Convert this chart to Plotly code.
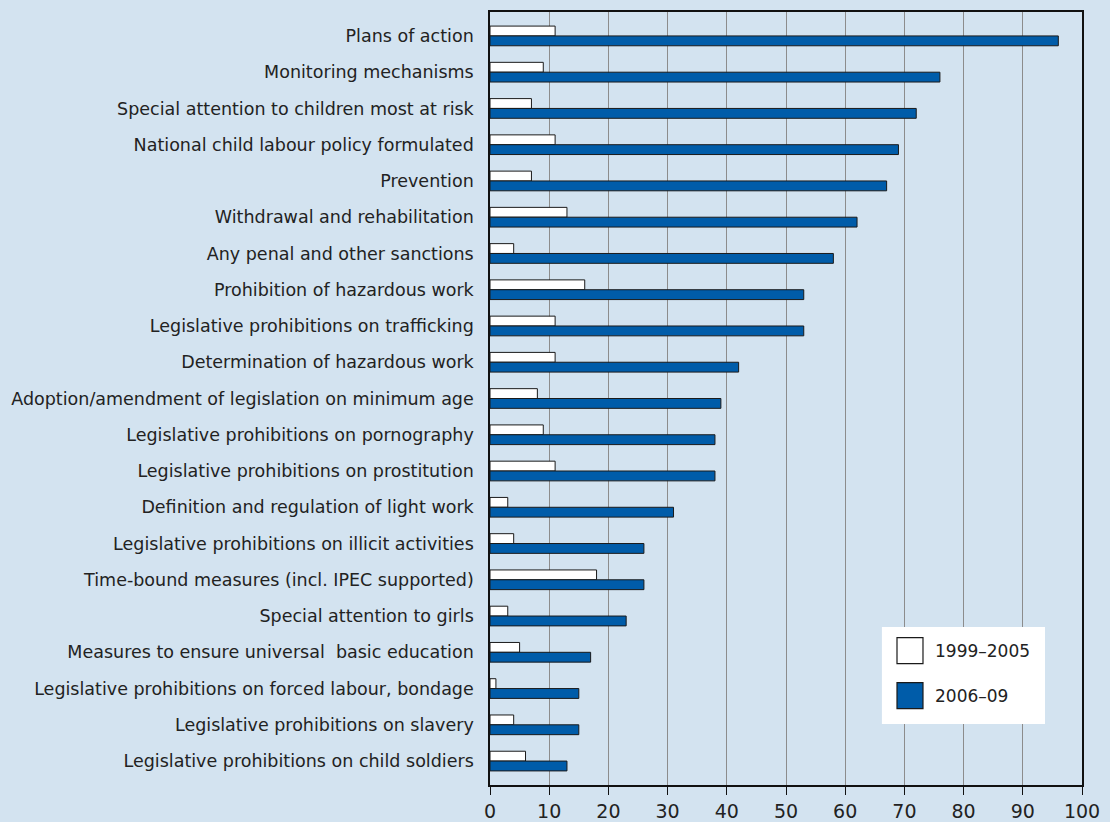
import plotly.graph_objects as go

categories = [
    "Plans of action",
    "Monitoring mechanisms",
    "Special attention to children most at risk",
    "National child labour policy formulated",
    "Prevention",
    "Withdrawal and rehabilitation",
    "Any penal and other sanctions",
    "Prohibition of hazardous work",
    "Legislative prohibitions on trafficking",
    "Determination of hazardous work",
    "Adoption/amendment of legislation on minimum age",
    "Legislative prohibitions on pornography",
    "Legislative prohibitions on prostitution",
    "Definition and regulation of light work",
    "Legislative prohibitions on illicit activities",
    "Time-bound measures (incl. IPEC supported)",
    "Special attention to girls",
    "Measures to ensure universal  basic education",
    "Legislative prohibitions on forced labour, bondage",
    "Legislative prohibitions on slavery",
    "Legislative prohibitions on child soldiers",
]
series_names = ["1999–2005", "2006–09"]
values_1999_2005 = [11, 9, 7, 11, 7, 13, 4, 16, 11, 11, 8, 9, 11, 3, 4, 18, 3, 5, 1, 4, 6]
values_2006_09 = [96, 76, 72, 69, 67, 62, 58, 53, 53, 42, 39, 38, 38, 31, 26, 26, 23, 17, 15, 15, 13]
x_ticks = [0, 10, 20, 30, 40, 50, 60, 70, 80, 90, 100]

BG = "#d3e3f0"
BLUE = "#005ca9"
FONT = "DejaVu Sans"
TEXT = "#222222"

fig = go.Figure()
fig.add_trace(go.Bar(
    y=categories, x=values_1999_2005, orientation="h", name=series_names[0],
    marker=dict(color="white", line=dict(color="#1a1a1a", width=1)),
))
fig.add_trace(go.Bar(
    y=categories, x=values_2006_09, orientation="h", name=series_names[1],
    marker=dict(color=BLUE, line=dict(color="#1a1a1a", width=1)),
))

n = len(categories)
fig.update_layout(
    width=1110, height=822,
    margin=dict(l=490, r=28, t=12, b=37, pad=0, autoexpand=False),
    paper_bgcolor=BG, plot_bgcolor=BG,
    barmode="group", bargap=0.457, bargroupgap=0,
    showlegend=False,
    font=dict(family=FONT, color=TEXT, size=17),
)
fig.update_xaxes(
    range=[0, 100], tickvals=x_ticks, ticktext=[str(t) for t in x_ticks],
    showgrid=True, gridcolor="#8c8c8c", gridwidth=1.2,
    showline=True, linecolor="#111111", linewidth=1.5, mirror=True,
    ticks="outside", ticklen=8, tickcolor="#111111", tickwidth=1.2,
    tickfont=dict(size=19, family=FONT, color=TEXT),
    zeroline=False, fixedrange=True, automargin=False,
)
fig.update_yaxes(
    type="category", categoryorder="array", categoryarray=categories,
    range=[n - 1 + 0.66, -0.66],
    showgrid=False, showline=True, linecolor="#111111", linewidth=1.5, mirror=True,
    ticks="", ticklabelstandoff=11,
    tickfont=dict(size=17.5, family=FONT, color=TEXT),
    fixedrange=True, automargin=False,
)

# manual legend (white box with large swatches)
fig.add_shape(type="rect", xref="paper", yref="paper",
              x0=0.662, x1=0.9375, y0=0.0789, y1=0.2044,
              fillcolor="white", line=dict(width=0), layer="above")
swatch_colors = ["white", BLUE]
swatch_y = [(0.1569, 0.1906), (0.0987, 0.1324)]
for name, col, (y0, y1) in zip(series_names, swatch_colors, swatch_y):
    fig.add_shape(type="rect", xref="paper", yref="paper",
                  x0=0.6875, x1=0.7314, y0=y0, y1=y1,
                  fillcolor=col, line=dict(color="#1a1a1a", width=1.2), layer="above")
    fig.add_annotation(xref="paper", yref="paper", x=0.748, y=(y0 + y1) / 2,
                       text=name, showarrow=False, xanchor="left", yanchor="middle",
                       font=dict(size=17, family=FONT, color=TEXT))

fig.write_html(
    "out.html",
    config={"displayModeBar": False},
    post_script="document.body.style.margin='0';document.body.style.background='%s';" % BG,
)
